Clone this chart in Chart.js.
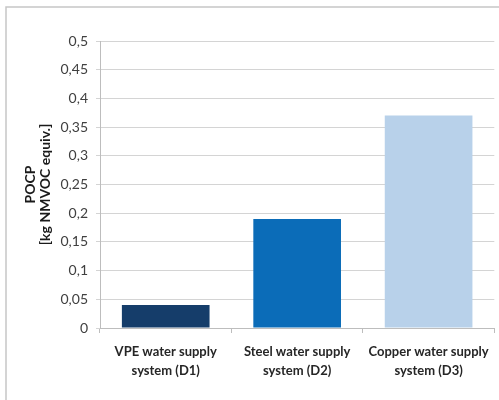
<!DOCTYPE html>
<html>
<head>
<meta charset="utf-8">
<script src="https://cdn.jsdelivr.net/npm/chart.js@4/dist/chart.umd.min.js"></script>
<style>
  html, body { margin: 0; padding: 0; background: #ffffff; }
  #wrap { width: 499px; height: 400px; position: relative; }
</style>
</head>
<body>
<div id="wrap"><canvas id="c" width="499" height="400"></canvas></div>
<script>
// POCP per water supply system variant
const categories = [
  ['VPE water supply', 'system (D1)'],
  ['Steel water supply', 'system (D2)'],
  ['Copper water supply', 'system (D3)']
];
const pocpValues = [0.04, 0.19, 0.37];
const barColors = ['#153d6a', '#0b6cb8', '#b8d1ea'];
const yAxisTitle = ['POCP', '[kg NMVOC equiv.]'];
const yMin = 0;
const yMax = 0.5;
const yStep = 0.05;

const fontFamily = 'Lato, "Open Sans", "Liberation Sans", sans-serif';

// thin grey frame around the chart
const framePlugin = {
  id: 'frame',
  beforeDraw(chart) {
    const ctx = chart.ctx;
    ctx.save();
    ctx.strokeStyle = '#c6c6c6';
    ctx.lineWidth = 1.5;
    ctx.beginPath();
    ctx.moveTo(6, chart.height + 5);
    ctx.lineTo(6, 7);
    ctx.lineTo(chart.width + 5, 7);
    ctx.stroke();
    ctx.restore();
  }
};

new Chart(document.getElementById('c'), {
  type: 'bar',
  data: {
    labels: categories,
    datasets: [{
      data: pocpValues,
      backgroundColor: barColors,
      borderWidth: 0,
      barPercentage: 0.667,
      categoryPercentage: 1
    }]
  },
  options: {
    responsive: false,
    animation: false,
    events: [],
    layout: { padding: { left: 0, top: 41, right: 2, bottom: 0 } },
    plugins: {
      legend: { display: false },
      tooltip: { enabled: false }
    },
    scales: {
      x: {
        grid: {
          display: true,
          drawOnChartArea: false,
          drawTicks: true,
          tickLength: 5,
          color: '#bdbdbd'
        },
        border: { display: true, color: '#bdbdbd', width: 1 },
        ticks: {
          color: '#262626',
          padding: 10,
          maxRotation: 0,
          autoSkip: false,
          font: { family: fontFamily, size: 13, weight: 'bold', lineHeight: 1.42 }
        },
        afterFit(scale) { scale.height = 72; }
      },
      y: {
        min: yMin,
        max: yMax,
        grid: {
          color: '#d4d4d4',
          drawTicks: true,
          tickLength: 4
        },
        border: { display: true, color: '#bdbdbd', width: 1 },
        ticks: {
          stepSize: yStep,
          color: '#404040',
          padding: 8,
          font: { family: fontFamily, size: 14 },
          callback(v) {
            return (Math.round(v * 100) / 100).toString().replace('.', ',');
          }
        },
        title: {
          display: true,
          text: yAxisTitle,
          color: '#1a1a1a',
          padding: { top: 23, bottom: 0 },
          font: { family: fontFamily, size: 14, weight: 'bold', lineHeight: 1.07 }
        },
        afterFit(scale) { scale.width = 100; }
      }
    }
  },
  plugins: [framePlugin]
});
</script>
</body>
</html>
